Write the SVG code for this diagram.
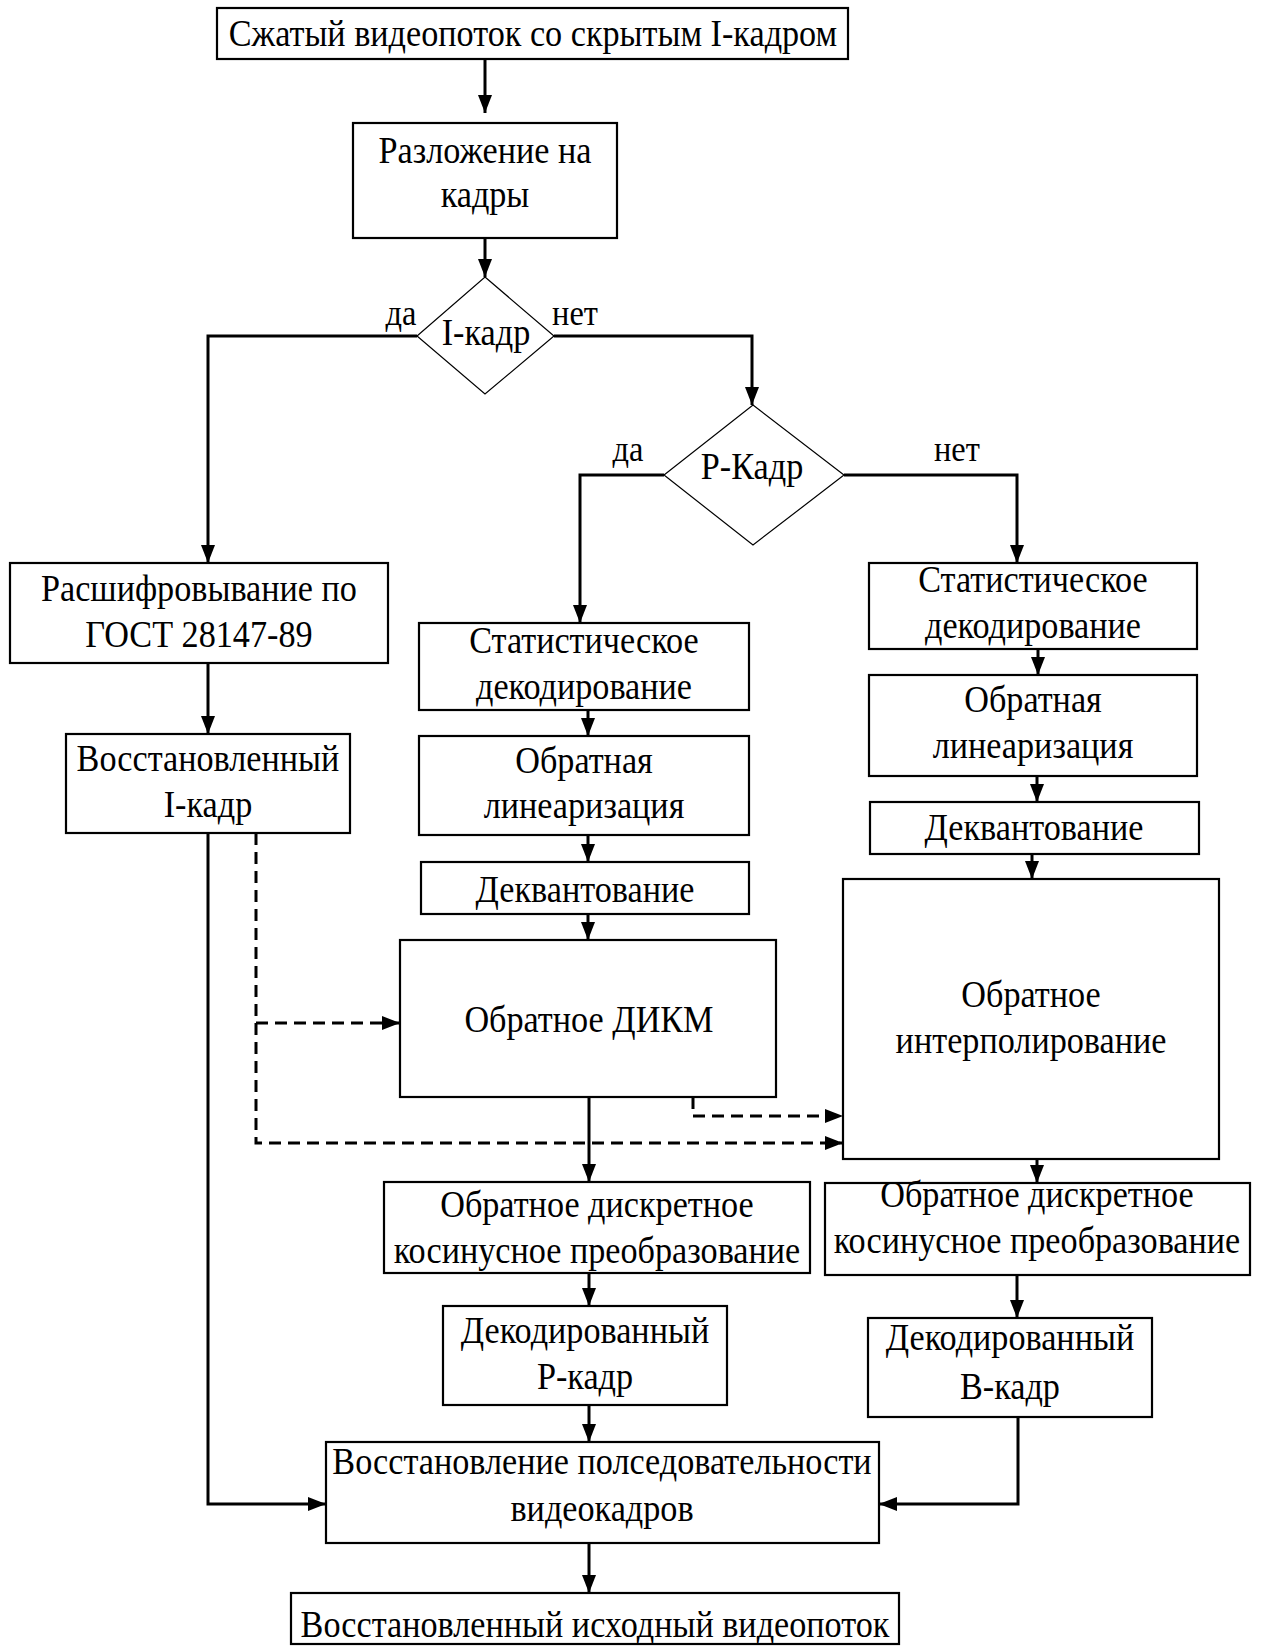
<svg xmlns="http://www.w3.org/2000/svg" width="1261" height="1647" viewBox="0 0 1261 1647">
  <style>
    .box { fill: #ffffff; stroke: #000000; stroke-width: 2.2; }
    .dia { fill: #ffffff; stroke: #000000; stroke-width: 1.2; }
    /* narrow serif: drawn at 38px and squeezed to 90% width */
    .t { font-family: "Liberation Serif", "Times New Roman", serif; font-size: 38px; fill: #000000; text-anchor: middle; }
    .lbl { font-family: "Liberation Serif", "Times New Roman", serif; font-size: 36px; fill: #000000; text-anchor: middle; }
    .ln { fill: none; stroke: #000000; stroke-width: 3; }
    .dash { fill: none; stroke: #000000; stroke-width: 3; stroke-dasharray: 12 7; }
  </style>
  <defs>
    <marker id="ah" markerUnits="userSpaceOnUse" markerWidth="18" markerHeight="14" viewBox="0 0 18 14" refX="18" refY="7" orient="auto">
      <path d="M0,0 L18,7 L0,14 z" fill="#000000"/>
    </marker>
  </defs>
  <rect width="1261" height="1647" fill="#ffffff"/>

  <!-- connectors -->
  <g id="connectors">
    <path class="ln" d="M485,59 V113" marker-end="url(#ah)"/>
    <path class="ln" d="M485,238 V277" marker-end="url(#ah)"/>
    <path class="ln" d="M417,336 H208 V563" marker-end="url(#ah)"/>
    <path class="ln" d="M554,336 H752 V405" marker-end="url(#ah)"/>
    <path class="ln" d="M664,475 H580 V623" marker-end="url(#ah)"/>
    <path class="ln" d="M844,475 H1017 V563" marker-end="url(#ah)"/>
    <path class="ln" d="M208,663 V734" marker-end="url(#ah)"/>
    <path class="ln" d="M588,710 V736" marker-end="url(#ah)"/>
    <path class="ln" d="M588,835 V862" marker-end="url(#ah)"/>
    <path class="ln" d="M588,914 V940" marker-end="url(#ah)"/>
    <path class="ln" d="M589,1097 V1182" marker-end="url(#ah)"/>
    <path class="ln" d="M589,1273 V1306" marker-end="url(#ah)"/>
    <path class="ln" d="M589,1405 V1442" marker-end="url(#ah)"/>
    <path class="ln" d="M589,1543 V1593" marker-end="url(#ah)"/>
    <path class="ln" d="M1038,649 V675" marker-end="url(#ah)"/>
    <path class="ln" d="M1037,776 V802" marker-end="url(#ah)"/>
    <path class="ln" d="M1032,854 V879" marker-end="url(#ah)"/>
    <path class="ln" d="M1037,1159 V1183" marker-end="url(#ah)"/>
    <path class="ln" d="M1017,1275 V1318" marker-end="url(#ah)"/>
    <path class="ln" d="M1018,1417 V1504 H879" marker-end="url(#ah)"/>
    <path class="ln" d="M208,833 V1504 H326" marker-end="url(#ah)"/>
    <path class="dash" d="M256,833 V1143 H843" marker-end="url(#ah)"/>
    <path class="dash" d="M256,1023 H400" marker-end="url(#ah)"/>
    <path class="dash" d="M693,1097 V1116 H843" marker-end="url(#ah)"/>
  </g>

  <!-- decision labels -->
  <g id="labels">
    <text class="lbl" transform="scale(0.9 1)" x="445.6" y="325">да</text>
    <text class="lbl" transform="scale(0.9 1)" x="638.9" y="325">нет</text>
    <text class="lbl" transform="scale(0.9 1)" x="697.8" y="461">да</text>
    <text class="lbl" transform="scale(0.9 1)" x="1063.3" y="461">нет</text>
  </g>

  <g id="input">
    <rect class="box" x="217" y="8" width="631" height="51"/>
    <text class="t" transform="scale(0.9 1)" x="592.2" y="46">Сжатый видеопоток со скрытым I-кадром</text>
  </g>
  <g id="split">
    <rect class="box" x="353" y="123" width="264" height="115"/>
    <text class="t" transform="scale(0.9 1)" x="538.9" y="163">Разложение на</text>
    <text class="t" transform="scale(0.9 1)" x="538.9" y="207">кадры</text>
  </g>
  <g id="is-i-frame">
    <polygon class="dia" points="485,277 554,336 485,394 417,336"/>
    <text class="t" transform="scale(0.9 1)" x="540" y="345">I-кадр</text>
  </g>
  <g id="is-p-frame">
    <polygon class="dia" points="753,405 844,475 753,545 664,475"/>
    <text class="t" transform="scale(0.9 1)" x="835.6" y="479">P-Кадр</text>
  </g>

  <!-- I-frame branch -->
  <g id="decrypt">
    <rect class="box" x="10" y="563" width="378" height="100"/>
    <text class="t" transform="scale(0.9 1)" x="221.1" y="601">Расшифровывание по</text>
    <text class="t" transform="scale(0.9 1)" x="221.1" y="647">ГОСТ 28147-89</text>
  </g>
  <g id="i-frame">
    <rect class="box" x="66" y="734" width="284" height="99"/>
    <text class="t" transform="scale(0.9 1)" x="231.1" y="771">Восстановленный</text>
    <text class="t" transform="scale(0.9 1)" x="231.1" y="817">I-кадр</text>
  </g>

  <!-- P-frame branch -->
  <g id="p-entropy">
    <rect class="box" x="419" y="623" width="330" height="87"/>
    <text class="t" transform="scale(0.9 1)" x="648.9" y="653">Статистическое</text>
    <text class="t" transform="scale(0.9 1)" x="648.9" y="699">декодирование</text>
  </g>
  <g id="p-delin">
    <rect class="box" x="419" y="736" width="330" height="99"/>
    <text class="t" transform="scale(0.9 1)" x="648.9" y="773">Обратная</text>
    <text class="t" transform="scale(0.9 1)" x="648.9" y="818">линеаризация</text>
  </g>
  <g id="p-dequant">
    <rect class="box" x="421" y="862" width="328" height="52"/>
    <text class="t" transform="scale(0.9 1)" x="650" y="902">Деквантование</text>
  </g>
  <g id="p-dpcm">
    <rect class="box" x="400" y="940" width="376" height="157"/>
    <text class="t" transform="scale(0.9 1)" x="654.4" y="1032">Обратное ДИКМ</text>
  </g>
  <g id="p-idct">
    <rect class="box" x="384" y="1182" width="426" height="91"/>
    <text class="t" transform="scale(0.9 1)" x="663.3" y="1217">Обратное дискретное</text>
    <text class="t" transform="scale(0.9 1)" x="663.3" y="1263">косинусное преобразование</text>
  </g>
  <g id="p-frame">
    <rect class="box" x="443" y="1306" width="284" height="99"/>
    <text class="t" transform="scale(0.9 1)" x="650" y="1343">Декодированный</text>
    <text class="t" transform="scale(0.9 1)" x="650" y="1389">P-кадр</text>
  </g>

  <!-- B-frame branch -->
  <g id="b-entropy">
    <rect class="box" x="869" y="563" width="328" height="86"/>
    <text class="t" transform="scale(0.9 1)" x="1147.8" y="592">Статистическое</text>
    <text class="t" transform="scale(0.9 1)" x="1147.8" y="638">декодирование</text>
  </g>
  <g id="b-delin">
    <rect class="box" x="869" y="675" width="328" height="101"/>
    <text class="t" transform="scale(0.9 1)" x="1147.8" y="712">Обратная</text>
    <text class="t" transform="scale(0.9 1)" x="1147.8" y="758">линеаризация</text>
  </g>
  <g id="b-dequant">
    <rect class="box" x="870" y="802" width="329" height="52"/>
    <text class="t" transform="scale(0.9 1)" x="1148.9" y="840">Деквантование</text>
  </g>
  <g id="b-interp">
    <rect class="box" x="843" y="879" width="376" height="280"/>
    <text class="t" transform="scale(0.9 1)" x="1145.6" y="1007">Обратное</text>
    <text class="t" transform="scale(0.9 1)" x="1145.6" y="1053">интерполирование</text>
  </g>
  <g id="b-idct">
    <rect class="box" x="825" y="1183" width="425" height="92"/>
    <text class="t" transform="scale(0.9 1)" x="1152.2" y="1207">Обратное дискретное</text>
    <text class="t" transform="scale(0.9 1)" x="1152.2" y="1253">косинусное преобразование</text>
  </g>
  <g id="b-frame">
    <rect class="box" x="868" y="1318" width="284" height="99"/>
    <text class="t" transform="scale(0.9 1)" x="1122.2" y="1350">Декодированный</text>
    <text class="t" transform="scale(0.9 1)" x="1122.2" y="1399">B-кадр</text>
  </g>

  <!-- output -->
  <g id="reorder">
    <rect class="box" x="326" y="1442" width="553" height="101"/>
    <text class="t" transform="scale(0.9 1)" x="668.9" y="1474">Восстановление полседовательности</text>
    <text class="t" transform="scale(0.9 1)" x="668.9" y="1521">видеокадров</text>
  </g>
  <g id="output">
    <rect class="box" x="291" y="1593" width="608" height="51"/>
    <text class="t" transform="scale(0.9 1)" x="661.1" y="1637">Восстановленный исходный видеопоток</text>
  </g>
</svg>
